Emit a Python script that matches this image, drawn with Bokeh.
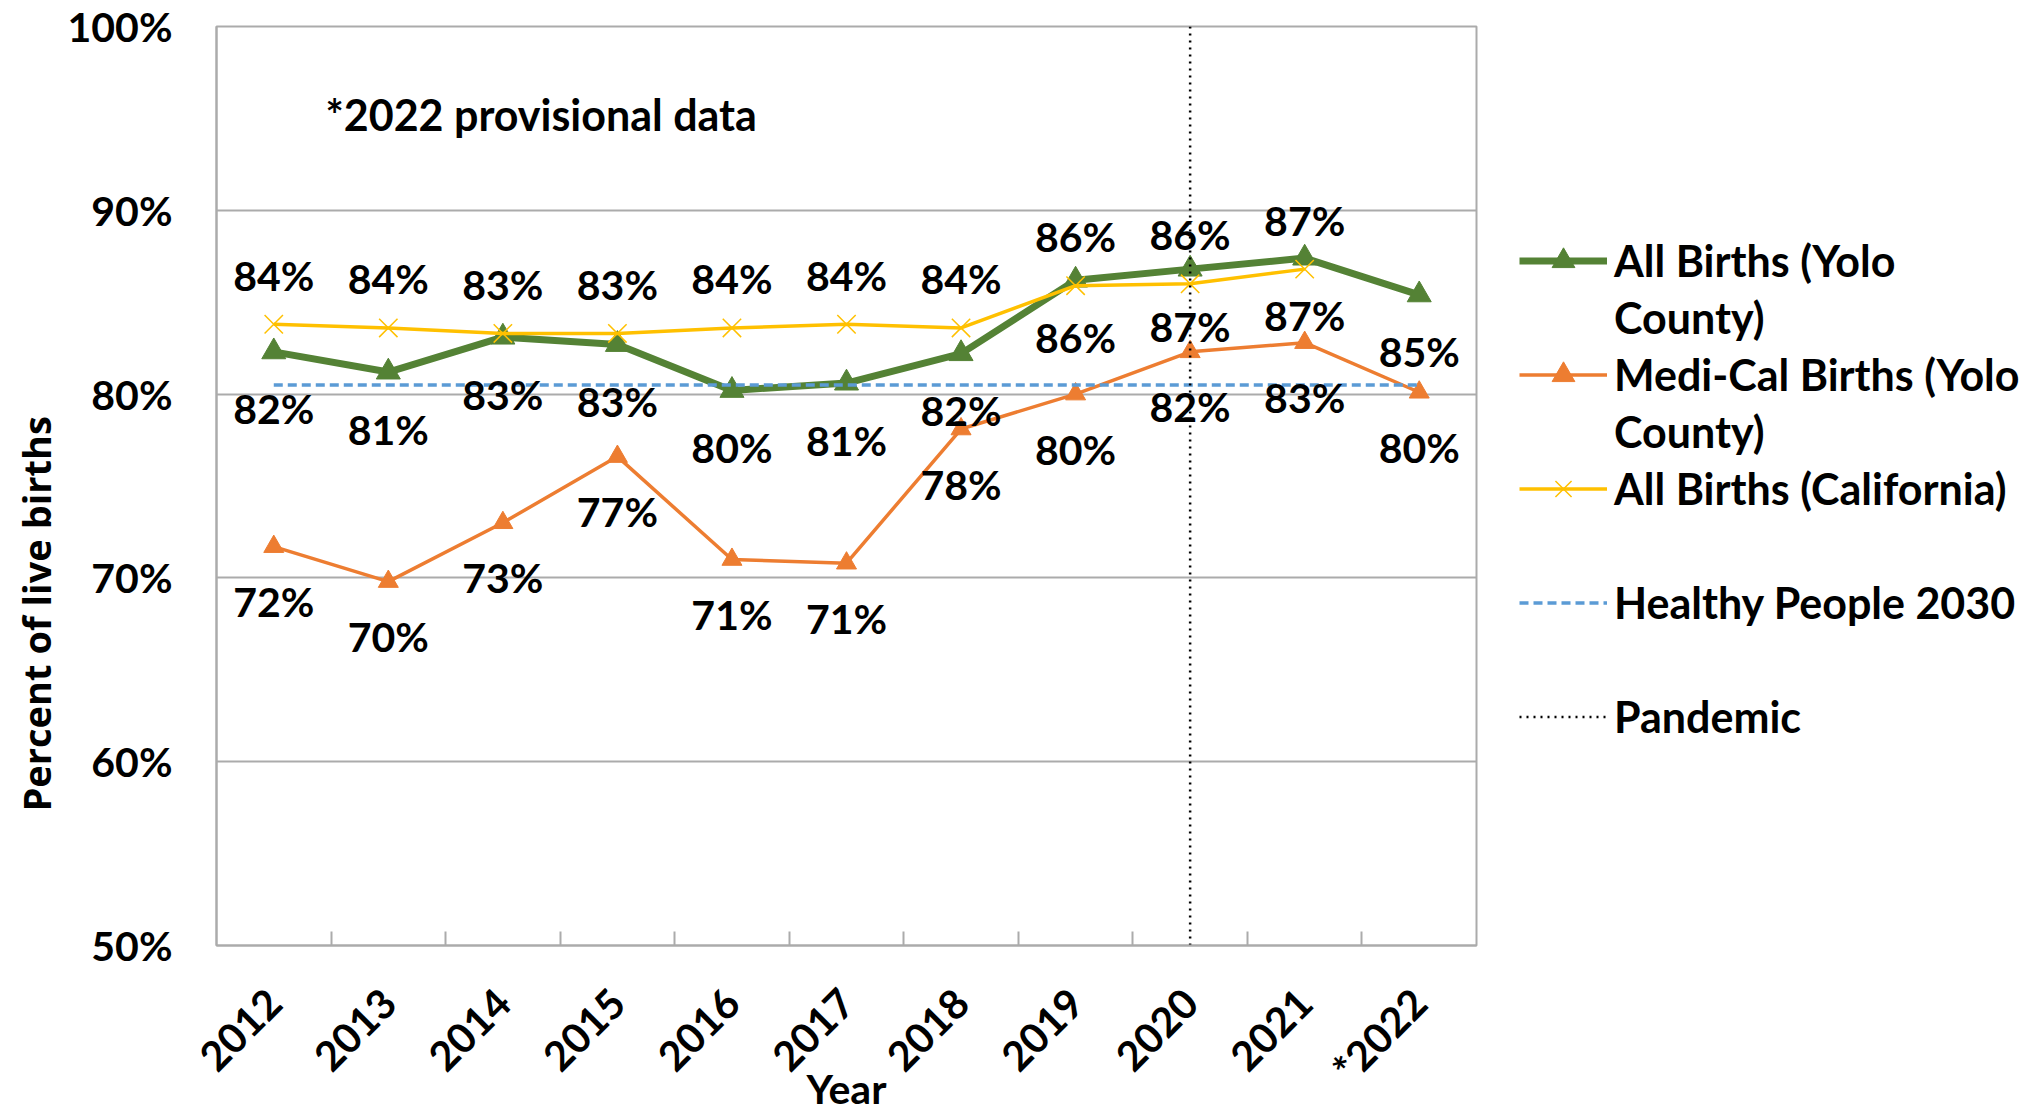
from bokeh.plotting import figure
from bokeh.layouts import row
from bokeh.models import (ColumnDataSource, Range1d, LinearAxis, Title,
                          FixedTicker, PrintfTickFormatter, Legend, LegendItem, Label)
from bokeh.core.properties import value
from bokeh.embed import file_html
from bokeh.resources import INLINE
from math import pi

# ---------------- data ----------------
years = ["2012", "2013", "2014", "2015", "2016", "2017", "2018", "2019", "2020", "2021", "*2022"]
all_births_yolo = [82.3, 81.2, 83.1, 82.7, 80.2, 80.6, 82.2, 86.2, 86.8, 87.4, 85.4]
medical_births_yolo = [71.7, 69.8, 73.0, 76.6, 71.0, 70.8, 78.1, 80.0, 82.3, 82.8, 80.1]
all_births_ca = [83.8, 83.6, 83.3, 83.3, 83.6, 83.8, 83.6, 85.9, 86.0, 86.8]  # 2012-2021
healthy_people_2030 = 80.5
pandemic_year = "2020"
y_ticks = [50, 60, 70, 80, 90, 100]
note_text = "*2022 provisional data"
y_title = "Percent of live births"
x_title = "Year"
legend_labels = ["All Births (Yolo", "County)", "Medi-Cal Births (Yolo", "County)",
                 "All Births (California)", " ", "Healthy People 2030", " ", "Pandemic"]

GREEN = "#548235"
ORANGE = "#ED7D31"
YELLOW = "#FFC000"
BLUE = "#5B9BD5"
GRID = "#ABABAB"
FONT = "Lato"
FS = "41px"

n = len(years)
xc = [i + 0.5 for i in range(n)]          # category centres
bounds = list(range(1, n))                # category boundaries (tick marks)


def pct(vals):
    return ["%d%%" % int(v + 0.5) for v in vals]


p = figure(x_range=Range1d(0, n), y_range=Range1d(y_ticks[0], y_ticks[-1]),
           width=1500, height=1115,
           min_border_left=216, min_border_top=26, min_border_right=24, min_border_bottom=170,
           x_axis_location=None, y_axis_location="left",
           toolbar_location=None, output_backend="svg",
           background_fill_color="white", border_fill_color="white")
p.outline_line_color = GRID
p.outline_line_width = 2
p.xgrid.grid_line_color = None

# y axis
yax = p.yaxis[0]
yax.ticker = FixedTicker(ticks=y_ticks)
yax.formatter = PrintfTickFormatter(format="%d%%")
yax.major_tick_line_color = None
yax.minor_tick_line_color = None
yax.axis_line_color = GRID
yax.axis_line_width = 2
yax.major_label_text_font = FONT
yax.major_label_text_font_style = "bold"
yax.major_label_text_font_size = FS
yax.major_label_text_color = "black"
yax.major_label_standoff = 38

p.add_layout(Title(text=y_title, align="left", offset=134, standoff=6,
                   text_font="Open Sans", text_font_style="bold", text_font_size="38px",
                   text_color="black"), "left")

p.ygrid.ticker = FixedTicker(ticks=y_ticks)
p.ygrid.grid_line_color = GRID
p.ygrid.grid_line_width = 2

# x axes: boundary ticks + category labels
tick_axis = LinearAxis(ticker=FixedTicker(ticks=bounds),
                       major_label_overrides={b: "" for b in bounds},
                       major_tick_in=14, major_tick_out=0, minor_tick_line_color=None,
                       major_tick_line_color=GRID, major_tick_line_width=2,
                       axis_line_color=GRID, axis_line_width=2,
                       major_label_text_font_size="1px", major_label_standoff=0)
p.add_layout(tick_axis, "below")

cat_axis = LinearAxis(ticker=FixedTicker(ticks=xc),
                      major_label_overrides={x: y for x, y in zip(xc, years)},
                      major_tick_line_color=None, minor_tick_line_color=None, axis_line_color=None,
                      major_label_orientation=pi / 4,
                      major_label_text_font=FONT, major_label_text_font_style="bold",
                      major_label_text_font_size=FS, major_label_text_color="black",
                      major_label_standoff=44,
                      axis_label=x_title, axis_label_text_font=FONT,
                      axis_label_text_font_style="bold", axis_label_text_font_size=FS,
                      axis_label_text_color="black", axis_label_standoff=-49)
p.add_layout(cat_axis, "below")

# ---------------- series ----------------
src_all = ColumnDataSource(dict(x=xc, y=all_births_yolo, t=pct(all_births_yolo)))
src_med = ColumnDataSource(dict(x=xc, y=medical_births_yolo, t=pct(medical_births_yolo)))
src_ca = ColumnDataSource(dict(x=xc[:len(all_births_ca)], y=all_births_ca, t=pct(all_births_ca)))
src_hp = ColumnDataSource(dict(x=xc, y=[healthy_people_2030] * n))
px = xc[years.index(pandemic_year)]
src_pan = ColumnDataSource(dict(x=[px, px], y=[y_ticks[0], y_ticks[-1]]))

STYLE_ALL_L = dict(line_color=GREEN, line_width=7)
STYLE_ALL_M = dict(marker="triangle", size=24, fill_color=GREEN, line_color=GREEN)
STYLE_MED_L = dict(line_color=ORANGE, line_width=3.5)
STYLE_MED_M = dict(marker="triangle", size=20, fill_color=ORANGE, line_color=ORANGE)
STYLE_CA_L = dict(line_color=YELLOW, line_width=3.5)
STYLE_CA_M = dict(marker="x", size=26, line_color=YELLOW, line_width=1.5)
STYLE_HP = dict(line_color=BLUE, line_width=3.5, line_dash="9 5")
STYLE_PAN = dict(line_color="black", line_width=2.5, line_dash="2 5")

p.line("x", "y", source=src_all, **STYLE_ALL_L)
p.scatter("x", "y", source=src_all, **STYLE_ALL_M)
p.line("x", "y", source=src_med, **STYLE_MED_L)
p.scatter("x", "y", source=src_med, **STYLE_MED_M)
p.line("x", "y", source=src_ca, **STYLE_CA_L)
p.scatter("x", "y", source=src_ca, **STYLE_CA_M)
p.line("x", "y", source=src_hp, **STYLE_HP)
p.line("x", "y", source=src_pan, **STYLE_PAN)

label_kw = dict(text="t", text_font=value(FONT), text_font_style="bold", text_font_size=FS,
                text_color="black", text_align="center", text_baseline="middle")
p.text("x", "y", source=src_ca, y_offset=-49, **label_kw)
p.text("x", "y", source=src_all, y_offset=57, **label_kw)
p.text("x", "y", source=src_med, y_offset=55, **label_kw)

p.add_layout(Label(x=109, y=831, x_units="screen", y_units="screen", text=note_text,
                   text_font=FONT, text_font_style="bold", text_font_size="43px",
                   text_color="black", text_baseline="middle", text_align="left"))

# ---------------- legend (separate panel to the right) ----------------
# legend glyph renderers reuse the series sources; their data lie outside this
# panel's ranges so only the legend swatches are visible here
q = figure(width=536, height=1115, x_range=Range1d(0, 1), y_range=Range1d(0, 1),
           min_border=0, x_axis_location=None, y_axis_location=None,
           toolbar_location=None, output_backend="svg",
           background_fill_color="white", border_fill_color="white")
q.outline_line_color = None
q.grid.grid_line_color = None

lg_all = [q.line("x", "y", source=src_all, **STYLE_ALL_L),
          q.scatter("x", "y", source=src_all, **STYLE_ALL_M)]
lg_med = [q.line("x", "y", source=src_med, **STYLE_MED_L),
          q.scatter("x", "y", source=src_med, **STYLE_MED_M)]
lg_ca = [q.line("x", "y", source=src_ca, **STYLE_CA_L),
         q.scatter("x", "y", source=src_ca, **STYLE_CA_M)]
lg_hp = [q.line("x", "y", source=src_hp, **STYLE_HP)]
lg_pan = [q.line("x", "y", source=src_pan, **STYLE_PAN)]
lg_blank = [q.line("x", "y", source=src_hp, line_alpha=0)]

item_renderers = [lg_all, lg_blank, lg_med, lg_blank, lg_ca, lg_blank, lg_hp, lg_blank, lg_pan]
items = [LegendItem(label=lab, renderers=rs) for lab, rs in zip(legend_labels, item_renderers)]

legend = Legend(items=items, location=(19, 200), orientation="vertical",
                glyph_width=88, glyph_height=57, label_height=57, spacing=0,
                padding=0, margin=0, label_standoff=7,
                border_line_color=None, background_fill_alpha=0,
                label_text_font=FONT, label_text_font_style="bold",
                label_text_font_size="43px", label_text_color="black")
q.add_layout(legend)

layout = row(p, q)
open("out.html", "w").write(file_html(layout, INLINE))
